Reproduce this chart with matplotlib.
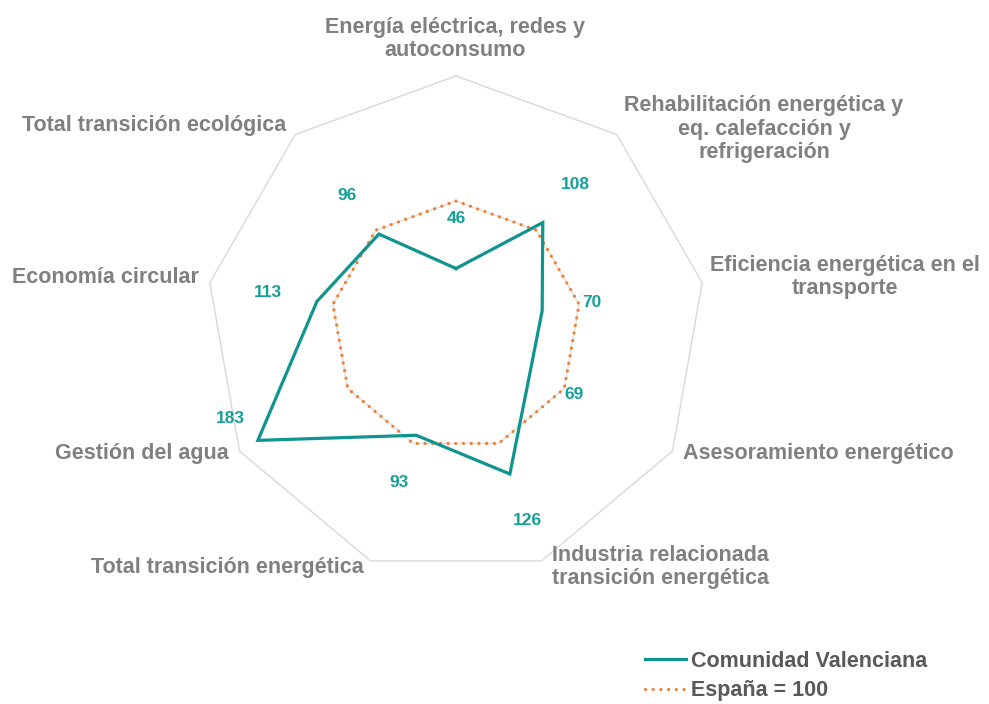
import numpy as np
import matplotlib
matplotlib.use("Agg")
import matplotlib.pyplot as plt
from matplotlib.lines import Line2D

plt.rcParams['font.family'] = ['Liberation Sans', 'DejaVu Sans']

categories = [
    "Energía eléctrica, redes y\nautoconsumo",
    "Rehabilitación energética y\neq. calefacción y\nrefrigeración",
    "Eficiencia energética en el\ntransporte",
    "Asesoramiento energético",
    "Industria relacionada\ntransición energética",
    "Total transición energética",
    "Gestión del agua",
    "Economía circular",
    "Total transición ecológica",
]
valenciana = [46, 108, 70, 69, 126, 93, 183, 113, 96]
espana = [100, 100, 100, 100, 100, 100, 100, 100, 100]
series_names = ["Comunidad Valenciana", "España = 100"]

# category label centres in pixels (x from left, y from top)
label_px = [(455, 39), (764, 129), (845, 277), (818, 453), (660, 567),
            (227, 568), (142, 453), (105, 277), (154, 125)]

W, H = 989, 704
TEAL = "#0f948f"
TEAL_TXT = "#14a09a"
ORANGE = "#ed7d31"
GREY = "#808080"
DOTS = (0, (0.01, 2.4))

fig = plt.figure(figsize=(W / 100, H / 100), dpi=100)
cx, cy, R = 456, 326, 250
ax = fig.add_axes([(cx - R) / W, (H - cy - R) / H, 2 * R / W, 2 * R / H],
                  projection="polar")
ax.set_theta_zero_location("N")
ax.set_theta_direction(-1)
ax.set_ylim(0, 200)
ax.grid(False)
ax.spines["polar"].set_visible(False)
ax.set_xticks([])
ax.set_yticks([])
ax.patch.set_alpha(0)

n = len(categories)
theta = np.linspace(0, 2 * np.pi, n, endpoint=False)
tc = np.append(theta, theta[0])

# outer frame
ax.plot(tc, [200] * (n + 1), color="#d9d9d9", lw=1.0, clip_on=False)

esp_c = espana + espana[:1]
ax.plot(tc, esp_c, color="#e9e3de", lw=1.3, clip_on=False)
ax.plot(tc, esp_c, color=ORANGE, lw=2.3, linestyle=DOTS,
        dash_capstyle="round", clip_on=False)
ax.plot(tc, valenciana + valenciana[:1], color=TEAL, lw=2.3,
        solid_joinstyle="miter", clip_on=False)

for t, v in zip(theta, valenciana):
    if v > 150:
        ax.annotate(str(v), (t, v), xytext=(-20, 16), textcoords="offset points",
                    ha="center", va="center", color=TEAL_TXT,
                    fontsize=12.5, fontweight="bold")
    else:
        ax.text(t, v + 40, str(v), ha="center", va="center", color=TEAL_TXT,
                fontsize=12.5, fontweight="bold")

for lab, (x, y) in zip(categories, label_px):
    fig.text(x / W, 1 - y / H, lab, ha="center", va="center", color=GREY,
             fontsize=15.5, fontweight="bold", linespacing=1.15)

handles = [Line2D([], [], color=TEAL, lw=2.3),
           Line2D([], [], color=ORANGE, lw=2.3, linestyle=DOTS,
                  dash_capstyle="round")]
fig.legend(handles, series_names, loc="upper left",
           bbox_to_anchor=(645 / W, 1 - 651 / H), frameon=False,
           borderpad=0, borderaxespad=0, handlelength=1.9, handletextpad=0.25,
           labelspacing=0.38, prop={"size": 15.5, "weight": "bold"},
           labelcolor="#595959")

fig.savefig("out.png", dpi=100)
